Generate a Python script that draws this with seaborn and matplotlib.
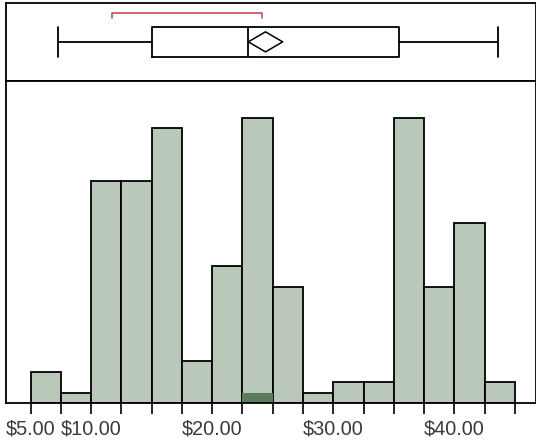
import matplotlib
matplotlib.use('Agg')
import matplotlib.pyplot as plt
import seaborn as sns
import numpy as np

# Histogram bins (dollars) and counts
bin_edges = [5.0, 7.5, 10.0, 12.5, 15.0, 17.5, 20.0, 22.5, 25.0,
             27.5, 30.0, 32.5, 35.0, 37.5, 40.0, 42.5, 45.0]
counts = [3, 1, 21, 21, 26, 4, 13, 27, 11, 1, 2, 2, 27, 11, 17, 2]
# dark highlighted part at the bottom of the $22.50-$25.00 bar
highlight_bin = [23.75]
highlight_count = [1]

tick_values = bin_edges
label_at = [5.0, 10.0, 20.0, 30.0, 40.0]

# Outlier box plot summary
whisker_lo = 7.28
q1 = 15.06
median = 22.98
q3 = 35.46
whisker_hi = 43.59
mean = 24.40
mean_ci = (22.98, 25.82)
shortest_half = (11.71, 24.14)

BAR_COLOR = '#bac8ba'
DARK_COLOR = '#5b7a5e'
RED = '#cc4a5e'

sns.set_style('white')
plt.rcParams['font.family'] = ['Liberation Sans', 'DejaVu Sans']

fig = plt.figure(figsize=(5.36, 4.46), dpi=100)
ax_box = fig.add_axes([0.0121, 0.8184, 0.9879, 0.1755])
ax_hist = fig.add_axes([0.0121, 0.0957, 0.9879, 0.7227])

xlim = (3.0, 46.75)

# ---- histogram ----
centers = (np.array(bin_edges[:-1]) + np.array(bin_edges[1:])) / 2
sns.histplot(x=centers, weights=counts, bins=bin_edges, ax=ax_hist,
             color=BAR_COLOR, edgecolor='black', linewidth=1.3, alpha=1)
sns.histplot(x=highlight_bin, weights=highlight_count, bins=bin_edges, ax=ax_hist,
             color=DARK_COLOR, linewidth=0, alpha=1)
ax_hist.set_xlim(*xlim)
ax_hist.set_ylim(0, 30.46)
ax_hist.set_xlabel('')
ax_hist.set_ylabel('')
ax_hist.set_yticks([])
labels = ['$' + f'{v:.2f}' if v in label_at else '' for v in tick_values]
ax_hist.set_xticks(tick_values)
ax_hist.set_xticklabels(labels)
ax_hist.tick_params(axis='x', direction='out', length=8, width=1.2,
                    color='black', labelsize=14.3, labelcolor='#3a3a3a', pad=4,
                    bottom=True)
for s in ax_hist.spines.values():
    s.set_color('black')
    s.set_linewidth(1.3)

# ---- box plot ----
stats = [dict(whislo=whisker_lo, q1=q1, med=median, q3=q3, whishi=whisker_hi,
              fliers=[], mean=mean)]
line_kw = dict(color='black', linewidth=1.3)
ax_box.bxp(stats, positions=[0.5], widths=0.39, orientation='horizontal',
           showfliers=False, showmeans=False, capwidths=0.39,
           boxprops=line_kw, whiskerprops=line_kw, capprops=line_kw,
           medianprops=line_kw)
# mean diamond
h = 0.128
ax_box.plot([mean_ci[0], mean, mean_ci[1], mean, mean_ci[0]],
            [0.5, 0.5 + h, 0.5, 0.5 - h, 0.5], color='black', linewidth=1.1)
# shortest half bracket
ax_box.plot([shortest_half[0], shortest_half[0], shortest_half[1], shortest_half[1]],
            [0.80, 0.872, 0.872, 0.80], color=RED, linewidth=1.2)
ax_box.set_xlim(*xlim)
ax_box.set_ylim(0, 1)
ax_box.set_xticks([])
ax_box.set_yticks([])
for s in ax_box.spines.values():
    s.set_color('black')
    s.set_linewidth(1.3)

fig.savefig('out.png', dpi=100)
